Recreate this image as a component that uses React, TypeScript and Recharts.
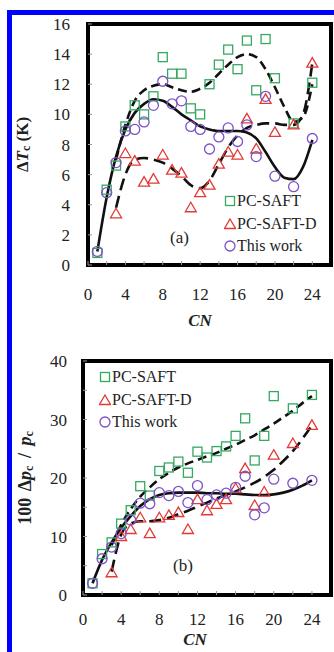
import React from 'react'
import {
  ComposedChart,
  Line,
  Scatter,
  XAxis,
  YAxis,
  ReferenceArea,
  Legend,
} from 'recharts'

// carbon numbers
const cnPts = [1, 2, 3, 4, 5, 6, 7, 8, 9, 10, 11, 12, 13, 14, 15, 16, 17, 18, 19, 20, 22, 24]
const cnPtsD = [3, 4, 5, 6, 7, 8, 9, 10, 11, 12, 13, 14, 15, 16, 17, 18, 19, 20, 22, 24]
const cnFit = [1, 2, 3, 4, 5, 6, 7, 8, 9, 10, 11, 12, 13, 14, 15, 16, 17, 18, 19, 20, 21, 22, 23, 24]
const cnFit3 = cnFit.slice(2)

// (a) delta Tc (K)
const tcSaft = [0.8, 5.0, 6.6, 9.2, 10.6, 10.0, 11.2, 13.8, 12.7, 12.7, 10.4, 10.0, 12.0, 13.3, 14.3, 13.0, 14.9, 11.6, 15.0, 12.4, 9.4, 12.1]
const tcSaftD = [3.4, 7.4, 6.9, 5.5, 5.7, 7.3, 6.3, 6.1, 3.8, 4.8, 5.3, 6.7, 7.5, 7.3, 9.7, 7.7, 11.0, 8.8, 9.3, 13.4]
const tcThis = [0.9, 4.8, 6.8, 8.9, 9.0, 9.5, 10.6, 12.2, 10.7, 10.9, 9.2, 9.0, 7.7, 8.5, 9.1, 8.2, 9.3, 7.2, 11.2, 5.9, 5.2, 8.4]
const tcSaftFit = [7.0, 9.3, 10.9, 11.6, 11.9, 12.0, 11.8, 11.6, 11.5, 11.7, 12.1, 12.7, 13.3, 13.8, 14.0, 13.8, 13.0, 11.8, 10.5, 9.5, 9.8, 12.0]
const tcSaftDFit = [3.8, 6.0, 7.0, 7.1, 7.0, 6.8, 6.4, 5.9, 5.3, 5.1, 5.6, 6.7, 7.8, 8.6, 9.1, 9.3, 9.4, 9.4, 9.3, 9.3, 10.0, 13.4]
const tcThisFit = [0.9, 4.5, 7.2, 9.0, 10.1, 10.7, 11.0, 10.9, 10.5, 10.0, 9.6, 9.2, 9.0, 8.9, 8.9, 8.9, 8.8, 8.4, 7.5, 6.5, 5.8, 5.7, 6.5, 8.3]

// (b) 100 delta pc / pc
const pcSaft = [2.0, 7.0, 9.0, 12.2, 14.5, 18.6, 17.0, 21.2, 21.8, 22.8, 20.9, 24.5, 23.5, 24.6, 25.4, 27.2, 30.2, 23.0, 27.2, 34.0, 31.9, 34.2]
const pcSaftD = [3.8, 10.0, 11.2, 13.2, 10.5, 13.2, 13.6, 14.1, 11.2, 16.3, 14.4, 15.5, 16.3, 18.2, 21.6, 15.3, 17.6, 23.9, 25.9, 29.0]
const pcThis = [2.0, 6.2, 8.2, 10.5, 12.8, 15.7, 15.6, 17.5, 17.0, 17.7, 15.8, 18.7, 16.3, 17.1, 17.4, 18.4, 20.3, 13.7, 14.9, 19.8, 19.1, 19.6]
const pcSaftFit = [8.5, 12.0, 14.7, 16.8, 18.4, 19.8, 20.9, 21.8, 22.5, 23.1, 23.7, 24.3, 25.0, 25.7, 26.5, 27.3, 28.3, 29.3, 30.4, 31.5, 32.8, 34.0]
const pcSaftDFit = [4.0, 10.3, 12.2, 12.6, 12.6, 12.8, 13.2, 13.8, 14.4, 15.1, 15.8, 16.5, 17.1, 17.7, 18.4, 19.2, 20.2, 21.4, 22.9, 24.6, 26.7, 29.0]
const pcThisFit = [2.0, 6.0, 9.0, 11.5, 13.5, 15.2, 16.4, 17.1, 17.4, 17.5, 17.5, 17.5, 17.4, 17.4, 17.3, 17.3, 17.2, 17.1, 17.1, 17.2, 17.5, 18.0, 18.7, 19.6]

const xTicks = [0, 2, 4, 6, 8, 10, 12, 14, 16, 18, 20, 22, 24]
const tcTicks = [0, 2, 4, 6, 8, 10, 12, 14, 16]
const pcTicks = [0, 5, 10, 15, 20, 25, 30, 35, 40]
const seriesNames = ['PC-SAFT', 'PC-SAFT-D', 'This work']

const GREEN = '#35a862'
const RED = '#e23a36'
const PURPLE = '#7d52c4'
const FONT = '"Liberation Serif", "DejaVu Serif", serif'

const pts = (xs: number[], ys: number[]) => xs.map((x, i) => ({ x, y: ys[i] }))

const Square = (p: any) => (
  <rect x={p.cx - 4.5} y={p.cy - 4.5} width={9} height={9} fill="none" stroke={GREEN} strokeWidth={1.3} />
)
const Triangle = (p: any) => (
  <path d={`M${p.cx},${p.cy - 5.5} L${p.cx + 5.5},${p.cy + 4} L${p.cx - 5.5},${p.cy + 4} Z`} fill="none" stroke={RED} strokeWidth={1.3} />
)
const Circle = (p: any) => <circle cx={p.cx} cy={p.cy} r={5} fill="none" stroke={PURPLE} strokeWidth={1.3} />

const LegendBox = () => (
  <div style={{ fontFamily: FONT, fontSize: 16, color: '#222', lineHeight: '22.5px' }}>
    {seriesNames.map((name, i) => (
      <div key={name} style={{ display: 'flex', alignItems: 'center', whiteSpace: 'nowrap' }}>
        <svg width={12} height={12} style={{ marginRight: 1 }}>
          {i === 0 && <rect x={1.5} y={1.5} width={9} height={9} fill="none" stroke={GREEN} strokeWidth={1.3} />}
          {i === 1 && <path d="M6,1 L11.5,10.5 L0.5,10.5 Z" fill="none" stroke={RED} strokeWidth={1.3} />}
          {i === 2 && <circle cx={6} cy={6} r={5} fill="none" stroke={PURPLE} strokeWidth={1.3} />}
        </svg>
        {name}
      </div>
    ))}
  </div>
)

const tickStyle = { fill: '#222', fontSize: 17, fontFamily: FONT }

const makeXTitle = (dy: number) => ({ viewBox }: any) => (
  <text x={viewBox.x + 112} y={viewBox.y + dy} textAnchor="middle" fontFamily={FONT} fontSize={17} fontWeight="bold" fontStyle="italic" fill="#222">
    CN
  </text>
)

type Pt = { x: number; y: number }

type PanelProps = {
  top: number
  height: number
  margin: { top: number; right: number; bottom: number; left: number }
  yMax: number
  yTicks: number[]
  yFmt: (v: number) => string
  saft: Pt[]
  saftD: Pt[]
  self: Pt[]
  saftFit: Pt[]
  saftDFit: Pt[]
  selfFit: Pt[]
  yTitle: (p: any) => React.ReactElement
  xTitleDy: number
  legendPos: { left: number; top: number }
  xTickMargin: number
  yTickMargin: number
}

function Panel(p: PanelProps) {
  return (
    <div style={{ position: 'absolute', left: 0, top: p.top }}>
      <ComposedChart width={334} height={p.height} margin={p.margin}>
        <XAxis
          type="number"
          dataKey="x"
          domain={[0, 26]}
          ticks={xTicks}
          tickFormatter={(v) => (v % 4 === 0 ? String(v) : '')}
          tick={tickStyle}
          tickSize={-4}
          tickMargin={p.xTickMargin}
          tickLine={{ stroke: '#999' }}
          axisLine={false}
          height={40}
          label={{ content: makeXTitle(p.xTitleDy) }}
        />
        <YAxis
          type="number"
          dataKey="y"
          domain={[0, p.yMax]}
          ticks={p.yTicks}
          tickFormatter={p.yFmt}
          tick={tickStyle}
          tickSize={-4}
          tickMargin={p.yTickMargin}
          tickLine={{ stroke: '#999' }}
          axisLine={false}
          width={70}
          label={{ content: p.yTitle }}
        />
        <ReferenceArea x1={0} x2={26} y1={0} y2={p.yMax} fill="#fff" fillOpacity={0} stroke="#000" strokeWidth={4} ifOverflow="visible" />
        <Scatter name="PC-SAFT" data={p.saft} dataKey="y" shape={Square} isAnimationActive={false} />
        <Scatter name="PC-SAFT-D" data={p.saftD} dataKey="y" shape={Triangle} isAnimationActive={false} />
        <Scatter name="This work" data={p.self} dataKey="y" shape={Circle} isAnimationActive={false} />
        <Line data={p.saftFit} dataKey="y" type="monotone" stroke="#111" strokeWidth={2.6} strokeDasharray="9 5" dot={false} isAnimationActive={false} />
        <Line data={p.saftDFit} dataKey="y" type="monotone" stroke="#111" strokeWidth={2.6} strokeDasharray="12 6" dot={false} isAnimationActive={false} />
        <Line data={p.selfFit} dataKey="y" type="monotone" stroke="#111" strokeWidth={2.6} dot={false} isAnimationActive={false} />
        <Legend
          layout="vertical"
          align="center"
          verticalAlign="middle"
          content={<LegendBox />}
          wrapperStyle={{ position: 'absolute', left: p.legendPos.left, top: p.legendPos.top, width: 120, height: 70 }}
        />
      </ComposedChart>
    </div>
  )
}

const tcTitle = ({ viewBox }: any) => {
  const cx = viewBox.x + 4
  const cy = viewBox.y + viewBox.height / 2
  return (
    <text x={cx} y={cy} transform={`rotate(-90, ${cx}, ${cy})`} textAnchor="middle" dominantBaseline="central" fontFamily={FONT} fontSize={17} fontWeight="bold" fill="#222">
      Δ<tspan fontStyle="italic">T</tspan>
      <tspan dy={4} fontSize={12}>c</tspan>
      <tspan dy={-4}> (K)</tspan>
    </text>
  )
}

const pcTitle = ({ viewBox }: any) => {
  const cx = viewBox.x + 12
  const cy = viewBox.y + viewBox.height / 2
  return (
    <text x={cx} y={cy} transform={`rotate(-90, ${cx}, ${cy})`} textAnchor="middle" dominantBaseline="central" fontFamily={FONT} fontSize={18} fontWeight="bold" fill="#222" wordSpacing={3}>
      100 Δ<tspan fontStyle="italic">p</tspan>
      <tspan dy={4} fontSize={12}>c</tspan>
      <tspan dy={-4}> / </tspan>
      <tspan fontStyle="italic">p</tspan>
      <tspan dy={4} fontSize={12}>c</tspan>
    </text>
  )
}

export default function App() {
  return (
    <div style={{ position: 'absolute', left: 0, top: 0, width: 334, height: 652, overflow: 'hidden', background: '#fff' }}>
      <div style={{ position: 'absolute', left: 7, top: 10, width: 400, height: 700, border: '5px solid #0000ff', boxSizing: 'border-box' }} />
      <Panel
        top={0}
        height={330}
        margin={{ top: 24, right: 3, bottom: 25, left: 18 }}
        yMax={16}
        yTicks={tcTicks}
        yFmt={(v) => String(v)}
        saft={pts(cnPts, tcSaft)}
        saftD={pts(cnPtsD, tcSaftD)}
        self={pts(cnPts, tcThis)}
        saftFit={pts(cnFit3, tcSaftFit)}
        saftDFit={pts(cnFit3, tcSaftDFit)}
        selfFit={pts(cnFit, tcThisFit)}
        yTitle={tcTitle}
        xTitleDy={61}
        legendPos={{ left: 224, top: 190 }}
        xTickMargin={27}
        yTickMargin={22}
      />
      <div style={{ position: 'absolute', left: 170, top: 228, fontFamily: FONT, fontSize: 17, color: '#222' }}>(a)</div>
      <Panel
        top={330}
        height={322}
        margin={{ top: 31, right: 3, bottom: 17, left: 13 }}
        yMax={40}
        yTicks={pcTicks}
        yFmt={(v) => (v % 10 === 0 ? String(v) : '')}
        saft={pts(cnPts, pcSaft)}
        saftD={pts(cnPtsD, pcSaftD)}
        self={pts(cnPts, pcThis)}
        saftFit={pts(cnFit3, pcSaftFit)}
        saftDFit={pts(cnFit3, pcSaftDFit)}
        selfFit={pts(cnFit, pcThisFit)}
        yTitle={pcTitle}
        xTitleDy={50}
        legendPos={{ left: 99, top: 36 }}
        xTickMargin={22}
        yTickMargin={20}
      />
      <div style={{ position: 'absolute', left: 173, top: 556, fontFamily: FONT, fontSize: 17, color: '#222' }}>(b)</div>
    </div>
  )
}
